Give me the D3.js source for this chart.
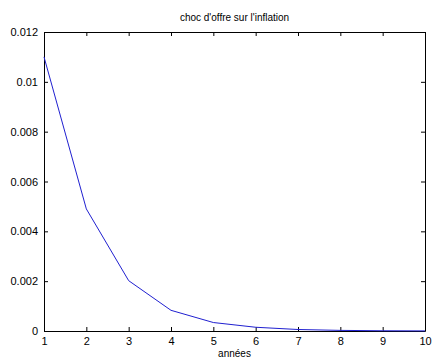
<!DOCTYPE html>
<html><head><meta charset="utf-8">
<script src="https://cdn.jsdelivr.net/npm/d3@7"></script>
<style>
html,body{margin:0;padding:0;background:#fff;}
svg{display:block;}
text{font-family:"Liberation Sans",Arial,sans-serif;fill:#000;}
</style></head>
<body>
<script>
const years = [1,2,3,4,5,6,7,8,9,10];
const inflation = [0.011,0.0049,0.00202,0.00083,0.00034,0.00015,0.00006,0.000025,0.00001,0.000004];
const xTicks = [1,2,3,4,5,6,7,8,9,10];
const yTicks = [0,0.002,0.004,0.006,0.008,0.01,0.012];
const title = "choc d'offre sur l'inflation";
const xLabel = "années";

const W=433,H=360;
const m={left:44,right:8,top:32,bottom:29};
const svg=d3.select("body").append("svg").attr("width",W).attr("height",H);
const x=d3.scaleLinear().domain([1,10]).range([m.left,W-m.right]);
const y=d3.scaleLinear().domain([0,0.012]).range([H-m.bottom,m.top]);
const fmt=d=>d===0?"0":String(+d.toFixed(3));

const g=svg.append("g");
// left axis
const ay=g.append("g").attr("transform",`translate(${m.left},0)`)
 .call(d3.axisLeft(y).tickValues(yTicks).tickFormat(fmt).tickSizeInner(-4).tickSizeOuter(0).tickPadding(6));
// right axis mirror
g.append("g").attr("transform",`translate(${W-m.right},0)`)
 .call(d3.axisRight(y).tickValues(yTicks).tickFormat("").tickSizeInner(-4).tickSizeOuter(0));
// bottom
const ax=g.append("g").attr("transform",`translate(0,${H-m.bottom})`)
 .call(d3.axisBottom(x).tickValues(xTicks).tickFormat(d3.format("d")).tickSizeInner(-4).tickSizeOuter(0).tickPadding(6));
// top
g.append("g").attr("transform",`translate(0,${m.top})`)
 .call(d3.axisTop(x).tickValues(xTicks).tickFormat("").tickSizeInner(-4).tickSizeOuter(0));
g.selectAll(".domain").attr("stroke","#000").attr("stroke-width",1);
g.selectAll(".tick line").attr("stroke","#000");
g.selectAll(".tick text").attr("font-size",11).attr("font-family","Liberation Sans, Arial, sans-serif").attr("fill","#222");

svg.append("path").datum(years.map((d,i)=>[d,inflation[i]]))
 .attr("fill","none").attr("stroke","#2020d0").attr("stroke-width",1)
 .attr("d",d3.line().x(d=>x(d[0])).y(d=>y(d[1])));

svg.append("text").attr("x",(m.left+W-m.right)/2).attr("y",21).attr("text-anchor","middle")
 .attr("font-size",10).text(title);
svg.append("text").attr("x",(m.left+W-m.right)/2).attr("y",357).attr("text-anchor","middle")
 .attr("font-size",10).text(xLabel);
</script>
</body></html>
